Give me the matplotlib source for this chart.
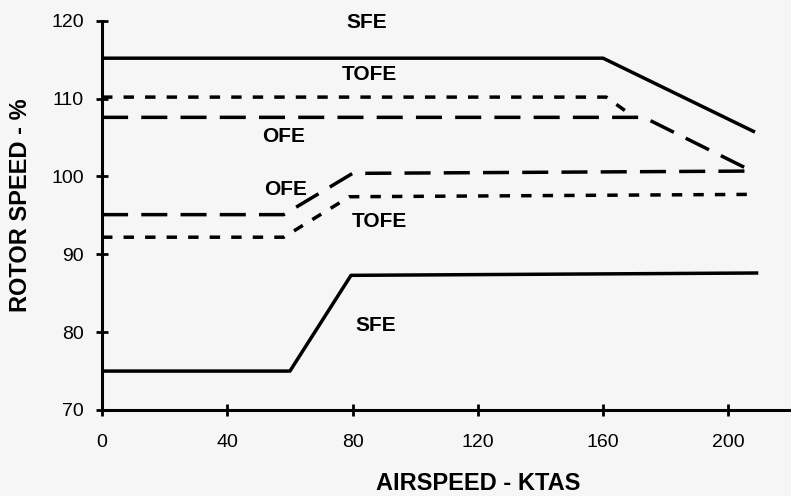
import matplotlib
matplotlib.use("Agg")
import matplotlib.pyplot as plt

# curve data (airspeed in KTAS, rotor speed in %)
sfe_hi_x = [0, 160, 208]
sfe_hi_y = [115.2, 115.2, 105.8]
tofe_hi_x = [0, 161, 170]
tofe_hi_y = [110.2, 110.2, 107.6]
ofe_hi_x = [0, 173, 207]
ofe_hi_y = [107.6, 107.6, 100.8]

ofe_lo_x = [0, 58, 80, 207]
ofe_lo_y = [95.1, 95.1, 100.4, 100.7]
tofe_lo_x = [0, 58, 79, 206]
tofe_lo_y = [92.2, 92.2, 97.4, 97.7]
sfe_lo_x = [0, 60, 79.5, 209]
sfe_lo_y = [75, 75, 87.3, 87.6]

xticks = [0, 40, 80, 120, 160, 200]
yticks = [70, 80, 90, 100, 110, 120]

labels = ["SFE", "TOFE", "OFE", "OFE", "TOFE", "SFE"]
label_x = [84.5, 85.5, 58, 58.5, 88.5, 87.5]
label_y = [119.8, 113.1, 105.1, 98.3, 94.2, 80.9]

plt.rcParams['font.family'] = ['Liberation Sans', 'DejaVu Sans']

bg = '#f6f6f6'
fig = plt.figure(figsize=(7.91, 4.96), dpi=100, facecolor=bg)
ax = fig.add_axes([0.129, 0.1734, 0.871, 0.7846], facecolor=bg)

lw = 2.5
dot = (3.0, 3.2)
dash = (7.5, 3.8)

ax.plot(sfe_hi_x, sfe_hi_y, color='black', lw=lw)
ax.plot(tofe_hi_x, tofe_hi_y, color='black', lw=lw, dashes=dot)
ax.plot(ofe_hi_x, ofe_hi_y, color='black', lw=lw, dashes=dash)
ax.plot(ofe_lo_x, ofe_lo_y, color='black', lw=lw, dashes=dash)
ax.plot(tofe_lo_x, tofe_lo_y, color='black', lw=lw, dashes=dot)
ax.plot(sfe_lo_x, sfe_lo_y, color='black', lw=lw)

for t, x, y in zip(labels, label_x, label_y):
    ax.text(x, y, t, ha='center', va='center', fontsize=15,
            fontweight='bold')

ax.set_xlim(0, 220)
ax.set_ylim(70, 120)
ax.set_xticks(xticks)
ax.set_yticks(yticks)

for s in ['top', 'right']:
    ax.spines[s].set_visible(False)
for s in ['left', 'bottom']:
    ax.spines[s].set_linewidth(2.2)

ax.tick_params(axis='both', direction='inout', length=8, width=2.0,
               labelsize=14)
ax.tick_params(axis='y', pad=9)
ax.tick_params(axis='x', pad=13)

fig.text(478 / 791, 1 - 484 / 496, 'AIRSPEED - KTAS', ha='center',
         va='center', fontsize=17, fontweight='bold')
fig.text(21 / 791, 1 - 205 / 496, 'ROTOR SPEED - %', ha='center',
         va='center', rotation=90, fontsize=17, fontweight='bold')

fig.savefig('out.png', dpi=100, facecolor=bg)
